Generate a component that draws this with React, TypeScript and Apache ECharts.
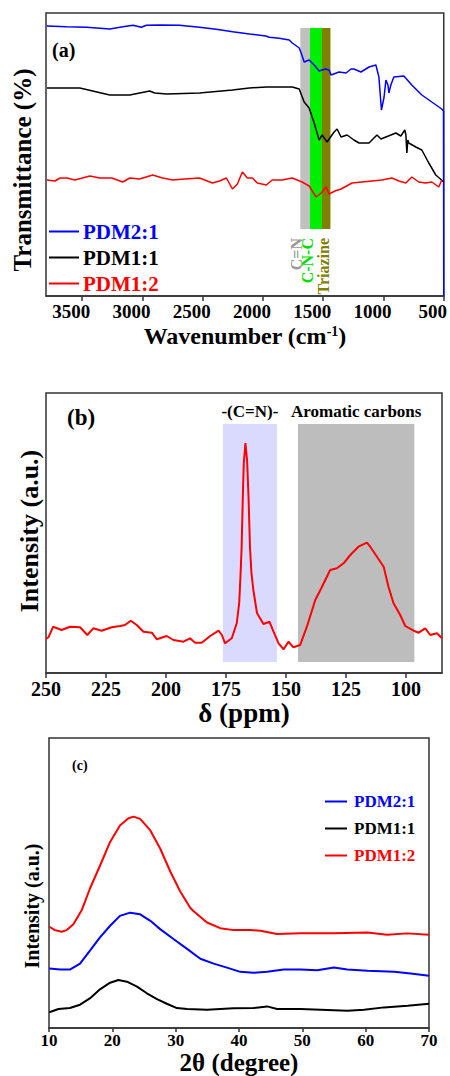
import React, { useEffect, useRef } from "react";
import * as echarts from "echarts";

const FONT = "'Liberation Serif', 'Times New Roman', serif";

// ---------- Panel (a): FTIR ----------
const ftirTicks = [3500, 3000, 2500, 2000, 1500, 1000, 500];
const ftirPDM21: [number, number][] = [
  [3794, 270], [3629, 269.3], [3463, 268.7], [3271, 267], [3161, 269.3], [3078, 270.7], [3009, 268.7],
  [2967, 270.7], [2857, 271], [2692, 270.7], [2526, 268.7], [2388, 266.7], [2251, 264.3], [2113, 262],
  [1975, 260], [1948, 258.7], [1865, 257.7], [1782, 256], [1757, 253], [1699, 248], [1683, 243],
  [1658, 234], [1617, 236], [1575, 231], [1534, 225], [1484, 227], [1451, 226], [1435, 221],
  [1369, 224], [1311, 223], [1269, 227], [1245, 227], [1187, 224], [1120, 229], [1063, 231],
  [1038, 219], [1017, 186], [995, 199], [980, 216], [963, 211], [955, 203], [939, 211], [914, 219],
  [831, 220], [765, 211], [682, 201], [599, 194], [517, 187], [502, 185], [500, 0],
];
const ftirPDM11: [number, number][] = [
  [3792, 208], [3519, 208], [3271, 201], [3105, 201], [2940, 205], [2898, 203], [2799, 202],
  [2526, 203], [2253, 206], [2113, 208], [1972, 209], [1865, 209], [1757, 209], [1699, 207],
  [1658, 194], [1617, 188], [1575, 173], [1534, 156], [1509, 161], [1468, 154], [1410, 164],
  [1385, 167], [1352, 159], [1302, 161], [1245, 156], [1203, 153], [1120, 153], [1054, 161],
  [1021, 157], [980, 159], [897, 163], [856, 160], [823, 166], [814, 161], [806, 143], [798, 156],
  [790, 153], [732, 149], [682, 146], [624, 133], [566, 121], [500, 114],
];
const ftirPDM12: [number, number][] = [
  [3792, 116], [3726, 115], [3684, 118], [3626, 118], [3560, 116], [3436, 120], [3353, 118],
  [3254, 118], [3163, 114], [3105, 118], [3023, 117], [2915, 121], [2832, 118], [2750, 116],
  [2650, 117], [2526, 118], [2419, 113], [2361, 115], [2303, 118], [2253, 107], [2212, 112],
  [2171, 124], [2129, 118], [2088, 118], [2047, 113], [1972, 111], [1923, 116], [1840, 116],
  [1757, 118], [1675, 114], [1617, 110], [1559, 99], [1517, 103], [1476, 109], [1451, 102],
  [1402, 105], [1352, 107], [1261, 113], [1178, 114], [1096, 115], [1013, 116], [930, 118],
  [872, 115], [814, 113], [765, 119], [707, 114], [649, 113], [599, 114], [541, 109], [517, 116],
];
const ftirBandNames = ["C=N", "C-N-C", "Triazine"];
const ftirBandFrom = [1690, 1610, 1510];
const ftirBandTo = [1610, 1510, 1440];
const ftirBandLow = 67;
const ftirBandHigh = 268;

// ---------- Panel (b): 13C NMR ----------
const nmrTicks = [250, 225, 200, 175, 150, 125, 100];
const nmrSpectrum: [number, number][] = [
  [250, 34], [249.0, 35.7], [247.0, 46.3], [243.5, 43], [240.0, 46.3], [235.8, 45.7], [232.8, 38],
  [230.3, 44.7], [226.8, 42.3], [222.6, 45.7], [219.1, 47], [217.1, 48], [214.7, 52.3], [212.2, 48],
  [209.4, 41.3], [205.9, 40.3], [203.8, 33.7], [199.7, 37], [196.9, 33], [192.7, 31.3], [190.0, 34.7],
  [187.9, 30.3], [185.1, 30.3], [181.6, 37], [178.1, 42.3], [176.7, 38], [175.4, 29.7], [172.6, 34.7],
  [170.5, 50], [169.5, 70], [169.0, 95], [168.5, 125], [168.0, 175], [167.6, 210], [166.9, 230],
  [166.2, 212], [165.6, 175], [165.0, 125], [164.4, 100], [163.6, 83], [162.1, 60], [159.4, 49],
  [156.9, 51.3], [155.2, 41.3], [153.1, 29.7], [151.0, 23.7], [149.0, 31.3], [146.9, 25.7],
  [144.1, 28], [141.3, 46.3], [137.8, 73], [135.0, 86.3], [131.6, 103], [128.8, 104.7],
  [126.0, 109.7], [123.2, 118], [119.8, 126.3], [116.3, 130.3], [114.9, 126.3], [112.1, 116.3],
  [109.3, 106.3], [107.3, 86.3], [105.2, 69.7], [102.4, 58], [100.3, 47], [96.8, 42.3], [94.7, 40.3],
  [92.0, 44.7], [89.9, 38], [87.1, 39.7], [85.0, 34.7],
];
const nmrBandNames = ["-(C=N)-", "Aromatic carbons"];
const nmrBandFrom = [176.3, 145];
const nmrBandTo = [153.8, 96.5];
const nmrBandLow = 11;
const nmrBandHigh = 249;

// ---------- Panel (c): XRD ----------
const xrdPDM21: [number, number][] = [
  [10.05, 60.3], [11.75, 59.3], [13.3, 59.3], [14.9, 65.3], [16.5, 78.7], [18.05, 92], [19.65, 103.7],
  [21.2, 113.7], [22.8, 117], [24.4, 115.3], [26.0, 108.7], [27.55, 100.3], [29.65, 90.3], [31.8, 80.3],
  [33.9, 70.3], [36.0, 65.3], [38.1, 61.3], [40.2, 57], [42.3, 56], [44.45, 57], [47.05, 59.3],
  [49.7, 59.3], [52.35, 58.7], [55.0, 61.3], [57.1, 59.3], [60.3, 58], [64.5, 57], [67.1, 55.3], [70.0, 53],
];
const xrdPDM11: [number, number][] = [
  [10.05, 16], [11.5, 19.3], [13.3, 20.3], [14.9, 23.7], [16.5, 30.3], [18.05, 39.3], [19.65, 46],
  [20.95, 48.7], [22.3, 47], [23.9, 42], [25.45, 35.3], [27.05, 29.3], [28.6, 24.7], [30.2, 20.3],
  [31.8, 19.3], [34.95, 18.7], [39.15, 20], [42.3, 20.3], [44.45, 22], [46.0, 19.3], [49.7, 19.3],
  [52.9, 18.7], [57.1, 17.7], [59.75, 18.7], [62.9, 21], [66.6, 22.7], [70.0, 24.7],
];
const xrdPDM12: [number, number][] = [
  [10.05, 102.7], [10.95, 99.3], [12.0, 97.7], [12.8, 99.3], [13.85, 105.3], [15.2, 120], [16.5, 142],
  [18.1, 165.3], [19.65, 188.7], [21.2, 205.3], [22.55, 212.7], [23.35, 214.3], [24.4, 212],
  [26.0, 200.3], [27.55, 182], [29.15, 158.7], [30.7, 138.7], [32.3, 122], [32.8, 118.7], [34.95, 107],
  [37.05, 101.3], [39.15, 99.3], [41.8, 99.3], [43.4, 98.7], [46.0, 95.3], [49.7, 96], [55.0, 96],
  [60.3, 97], [63.4, 94.7], [66.6, 96], [70.0, 94.7],
];
const seriesNames = ["PDM2:1", "PDM1:1", "PDM1:2"];

const BLUE = "#0000ff";
const BLACK = "#000000";
const RED = "#ff0000";
const seriesColors = [BLUE, BLACK, RED];
const ftirBandColors = ["#c0c0c0", "#00ee00", "#7f7f00"];
const ftirBandTextColors = ["#9a9a9a", "#00dd00", "#808000"];
const nmrBandColors = ["#dadaff", "#bdbdbd"];

const FRAME = "#333333";

function tickLabel(size: number, extra: any = {}) {
  return {
    color: "#000", fontFamily: FONT, fontWeight: "bold", fontSize: size,
    formatter: (v: number) => String(v), ...extra,
  };
}

export default function App() {
  const ref = useRef<HTMLDivElement>(null);
  useEffect(() => {
    if (!ref.current) return;
    const chart = echarts.init(ref.current, null, { renderer: "svg" });

    const grids = [
      { left: 46, top: 13, width: 399, height: 283 },
      { left: 46, top: 393, width: 396, height: 280 },
      { left: 49, top: 738, width: 380, height: 294 },
    ].map((g) => ({ ...g, show: true, borderColor: FRAME, borderWidth: 1.5, backgroundColor: "transparent" }));

    const xAxes: any[] = [
      {
        gridIndex: 0, type: "value", min: 500, max: 3800, inverse: true,
        axisLine: { show: true, lineStyle: { color: FRAME, width: 1.5 } },
        axisTick: { show: true, length: 5, customValues: ftirTicks, lineStyle: { color: FRAME, width: 1.5 } },
        axisLabel: { customValues: ftirTicks, margin: 6, ...tickLabel(19), padding: [0, 22, 0, 0] },
        splitLine: { show: false },
        name: "Wavenumber (cm{sup|-1})", nameLocation: "middle", nameGap: 28,
        nameTextStyle: {
          color: "#000", fontFamily: FONT, fontWeight: "bold", fontSize: 24,
          rich: { sup: { fontFamily: FONT, fontWeight: "bold", fontSize: 14, color: "#000", verticalAlign: "top", lineHeight: 14 } },
        },
      },
      {
        gridIndex: 1, type: "value", min: 85, max: 250, inverse: true,
        axisLine: { show: true, lineStyle: { color: FRAME, width: 1.5 } },
        axisTick: { show: true, length: 5, customValues: nmrTicks, lineStyle: { color: FRAME, width: 1.5 } },
        axisLabel: { customValues: nmrTicks, margin: 6, ...tickLabel(20) },
        splitLine: { show: false },
        name: "δ (ppm)", nameLocation: "middle", nameGap: 25,
        nameTextStyle: { color: "#000", fontFamily: FONT, fontWeight: "bold", fontSize: 27 },
      },
      {
        gridIndex: 2, type: "value", min: 10, max: 70, interval: 10,
        axisLine: { show: true, lineStyle: { color: FRAME, width: 1.5 } },
        axisTick: { show: true, length: 4, lineStyle: { color: FRAME, width: 1.5 } },
        axisLabel: { margin: 4, ...tickLabel(17) },
        splitLine: { show: false },
        name: "2θ (degree)", nameLocation: "middle", nameGap: 15,
        nameTextStyle: { color: "#000", fontFamily: FONT, fontWeight: "bold", fontSize: 25 },
      },
    ];

    const yBase = { type: "value", axisLine: { show: false }, axisTick: { show: false }, axisLabel: { show: false }, splitLine: { show: false } };
    const yAxes: any[] = [
      { ...yBase, gridIndex: 0, min: 0, max: 283 },
      { ...yBase, gridIndex: 1, min: 0, max: 280 },
      { ...yBase, gridIndex: 2, min: 0, max: 294 },
    ];

    const line = (name: string, data: any, idx: number, color: string, width: number, extra: any = {}) => ({
      type: "line", name, data, xAxisIndex: idx, yAxisIndex: idx,
      symbol: "none", showSymbol: false, smooth: false,
      lineStyle: { color, width }, itemStyle: { color }, z: 3, ...extra,
    });

    const ftirMarkArea = {
      silent: true, z: 1,
      data: ftirBandNames.map((n, i) => [
        { name: "", xAxis: ftirBandFrom[i], yAxis: ftirBandLow, itemStyle: { color: ftirBandColors[i], opacity: 1 } },
        { xAxis: ftirBandTo[i], yAxis: ftirBandHigh },
      ]),
      label: { show: false },
    };

    const nmrMarkArea = {
      silent: true,
      data: nmrBandNames.map((n, i) => [
        {
          name: n, xAxis: nmrBandFrom[i], yAxis: nmrBandLow, itemStyle: { color: nmrBandColors[i], opacity: 1 },
          label: { show: true, position: "top", distance: 4, color: "#000", fontFamily: FONT, fontWeight: "bold", fontSize: 17 },
        },
        { xAxis: nmrBandTo[i], yAxis: nmrBandHigh },
      ]),
    };

    const series: any[] = [
      line(seriesNames[0], ftirPDM21, 0, BLUE, 1.5),
      line(seriesNames[1], ftirPDM11, 0, BLACK, 1.5),
      line(seriesNames[2], ftirPDM12, 0, RED, 1.5, { markArea: ftirMarkArea }),
      line("13C NMR", nmrSpectrum, 1, RED, 2, { markArea: nmrMarkArea }),
      line(seriesNames[0], xrdPDM21, 2, BLUE, 2),
      line(seriesNames[1], xrdPDM11, 2, BLACK, 2),
      line(seriesNames[2], xrdPDM12, 2, RED, 2),
    ];

    const legendData = seriesNames.map((n, i) => ({ name: n, icon: "rect", textStyle: { color: seriesColors[i] } }));
    const legends: any[] = [
      {
        left: 49, top: 221, orient: "vertical", padding: 0, itemGap: 5, itemWidth: 30, itemHeight: 2,
        selectedMode: false, data: legendData,
        textStyle: { fontFamily: FONT, fontWeight: "bold", fontSize: 21, padding: [0, 0, 0, -1] },
      },
      {
        left: 325, top: 793, orient: "vertical", padding: 0, itemGap: 10, itemWidth: 22, itemHeight: 2,
        selectedMode: false, data: legendData,
        textStyle: { fontFamily: FONT, fontWeight: "bold", fontSize: 17, padding: [0, 0, 0, 2] },
      },
    ];

    const txt = (text: string, x: number, y: number, size: number, opts: any = {}) => ({
      type: "text", x, y, rotation: opts.rotation || 0, silent: true,
      style: {
        text, fill: opts.color || "#000", fontFamily: FONT, fontWeight: "bold", fontSize: size,
        align: opts.align || "left", verticalAlign: opts.verticalAlign || "middle",
      },
    });

    const graphic: any[] = [
      txt("(a)", 52, 50, 20),
      txt("(b)", 67, 417, 23),
      txt("(c)", 72, 765, 14),
      txt("Transmittance (%)", 22, 170, 25, { rotation: Math.PI / 2, align: "center" }),
      txt("Intensity (a.u.)", 29, 531, 26, { rotation: Math.PI / 2, align: "center" }),
      txt("Intensity (a.u.)", 32, 906, 20, { rotation: Math.PI / 2, align: "center" }),
      txt(ftirBandNames[0], 296, 238, 16, { rotation: Math.PI / 2, align: "right", color: ftirBandTextColors[0] }),
      txt(ftirBandNames[1], 307.5, 238, 16, { rotation: Math.PI / 2, align: "right", color: ftirBandTextColors[1] }),
      txt(ftirBandNames[2], 323, 238, 16, { rotation: Math.PI / 2, align: "right", color: ftirBandTextColors[2] }),
    ];

    chart.setOption({
      animation: false,
      backgroundColor: "#ffffff",
      grid: grids,
      xAxis: xAxes,
      yAxis: yAxes,
      legend: legends,
      series,
      graphic,
    });
    return () => chart.dispose();
  }, []);

  return <div ref={ref} style={{ position: "absolute", left: 0, top: 0, width: 450, height: 1076 }} />;
}
